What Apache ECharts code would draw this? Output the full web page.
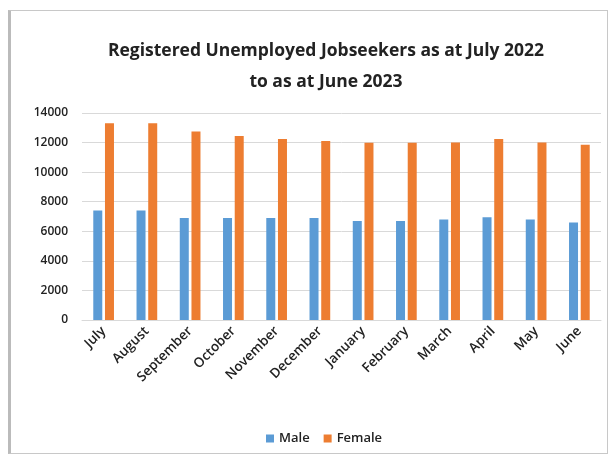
<!DOCTYPE html>
<html>
<head>
<meta charset="UTF-8">
<title>Registered Unemployed Jobseekers</title>
<script src="https://cdn.jsdelivr.net/npm/echarts@6/dist/echarts.min.js"></script>
<style>
  html,body{margin:0;padding:0;background:#fff;}
  #frame{position:absolute;left:8px;top:10px;width:600px;height:444px;border:1px solid #c8c8c8;border-left:3px solid #bbb;box-sizing:border-box;}
  #main{width:611px;height:464px;}
</style>
</head>
<body>
<div id="frame"></div>
<div id="main"></div>
<script>
var months = ['July','August','September','October','November','December','January','February','March','April','May','June'];
var male = [7400, 7400, 6900, 6900, 6900, 6900, 6700, 6700, 6800, 6950, 6800, 6600];
var female = [13300, 13300, 12750, 12450, 12250, 12100, 11980, 11980, 12000, 12250, 12000, 11850];
var yTicks = [0, 2000, 4000, 6000, 8000, 10000, 12000, 14000];

var chart = echarts.init(document.getElementById('main'));
chart.setOption({
  animation: false,
  title: {
    text: 'Registered Unemployed Jobseekers as at July 2022\nto as at June 2023',
    left: 321, top: 31, textAlign: 'center',
    textStyle: {fontFamily: 'Open Sans', fontSize: 17.5, fontWeight: 'bold', color: '#222', lineHeight: 31}
  },
  legend: {
    data: ['Male', 'Female'],
    bottom: 14, left: 261,
    itemWidth: 8, itemHeight: 8, itemGap: 14,
    icon: 'rect',
    textStyle: {fontFamily: 'Open Sans', fontSize: 13, fontWeight: 600, color: '#222'}
  },
  grid: {left: 82, right: 10, top: 113, bottom: 144},
  xAxis: {
    type: 'category',
    data: months,
    axisLine: {lineStyle: {color: '#d9d9d9'}},
    axisTick: {show: false},
    axisLabel: {rotate: 45, interval: 0, fontFamily: 'Open Sans', fontSize: 13.5, fontWeight: 600, color: '#222', margin: 9}
  },
  yAxis: {
    type: 'value',
    min: yTicks[0], max: yTicks[yTicks.length - 1], interval: 2000,
    axisLine: {show: false},
    axisTick: {show: false},
    splitLine: {lineStyle: {color: '#d9d9d9'}},
    axisLabel: {fontFamily: 'Open Sans', fontSize: 12, fontWeight: 600, color: '#222', margin: 14,
      formatter: function (v) { return String(v); }}
  },
  series: [
    {name: 'Male', type: 'bar', data: male, barWidth: 9, barGap: '30%', itemStyle: {color: '#5b9bd5'}},
    {name: 'Female', type: 'bar', data: female, barWidth: 9, itemStyle: {color: '#ed7d31'}}
  ]
});
</script>
</body>
</html>
